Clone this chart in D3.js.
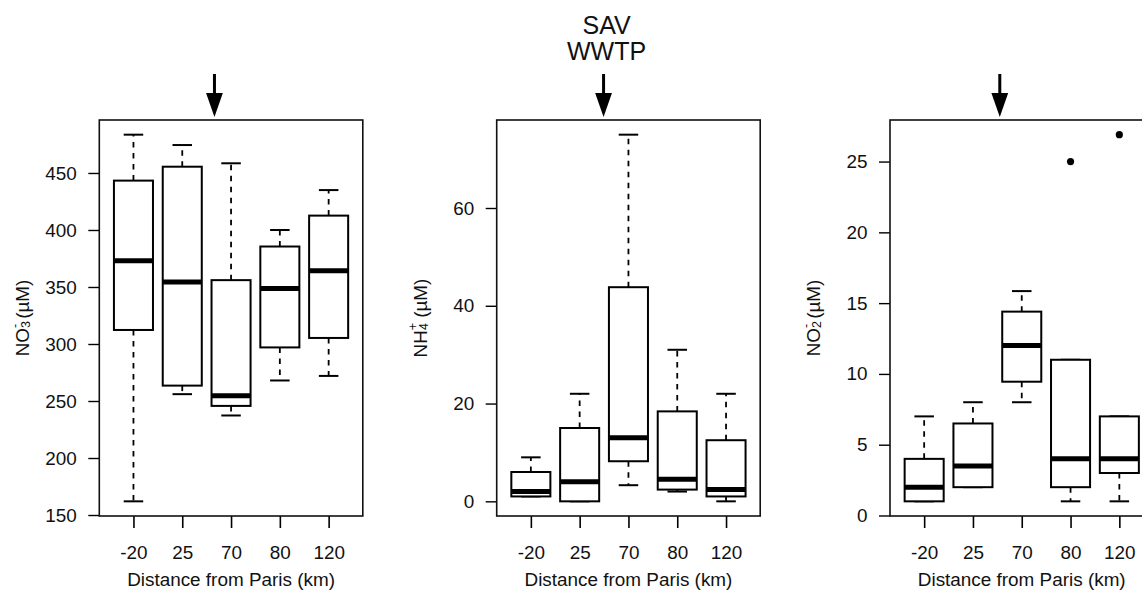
<!DOCTYPE html>
<html>
<head>
<meta charset="utf-8">
<script src="https://cdn.jsdelivr.net/npm/d3@7"></script>
<style>
  html, body { margin: 0; padding: 0; background: #fff; }
  svg { display: block; font-family: "Liberation Sans", Arial, Helvetica, sans-serif; }
</style>
</head>
<body>
<svg id="chart" width="1142" height="592"></svg>
<script>
// ---- data ----
const categories = ["-20", "25", "70", "80", "120"];
// [lower whisker, Q1, median, Q3, upper whisker]
const no3Stats = [
  [162, 312.3, 373, 443.3, 483.6],
  [256, 263.5, 354.3, 455.5, 474.5],
  [237.3, 245.7, 254.5, 356, 458.5],
  [268, 297, 348.7, 385.5, 400],
  [272, 305.3, 364.2, 412.6, 435]
];
const nh4Stats = [
  [1, 1, 2, 6, 9],
  [0, 0, 4, 15, 22],
  [3.3, 8.2, 13, 43.8, 75],
  [2, 2.4, 4.5, 18.4, 31],
  [0, 1, 2.4, 12.5, 22]
];
const no2Stats = [
  [1, 1, 2, 4, 7],
  [2, 2, 3.5, 6.5, 8],
  [8, 9.45, 12, 14.4, 15.85],
  [1, 2, 4, 11, 11],
  [1, 3, 4, 7, 7]
];
const no3Outliers = [[], [], [], [], []];
const nh4Outliers = [[], [], [], [], []];
const no2Outliers = [[], [], [], [25], [26.9]];
const no3Ticks = [150, 200, 250, 300, 350, 400, 450];
const nh4Ticks = [0, 20, 40, 60];
const no2Ticks = [0, 5, 10, 15, 20, 25];
// arrow position (in box-index units) marking the SAV WWTP outfall
const arrowPos = [2.66, 2.49, 2.55];
const xTitle = "Distance from Paris (km)";
const wwtpTitle = ["SAV", "WWTP"];

// ---- layout ----
const svg = d3.select("#chart");
const FS = 18.9;
const plotTop = 120, plotBottom = 516, plotW = 263.5;
const lefts = [99.3, 496.7, 890];

const panels = [
  { stats: no3Stats, out: no3Outliers, ticks: no3Ticks, label: ["NO", "3", "-"] },
  { stats: nh4Stats, out: nh4Outliers, ticks: nh4Ticks, label: ["NH", "4", "+"] },
  { stats: no2Stats, out: no2Outliers, ticks: no2Ticks, label: ["NO", "2", "-"] }
];

panels.forEach((p, pi) => {
  const left = lefts[pi];
  const all = p.stats.flat().concat(p.out.flat());
  const lo = d3.min(all), hi = d3.max(all);
  const ext = (hi - lo) * 0.04;
  const y = d3.scaleLinear().domain([lo - ext, hi + ext]).range([plotBottom, plotTop]);
  const x = d3.scaleLinear().domain([0.3, 5.7]).range([left, left + plotW]);
  const bw = (x(1.4) - x(1)); // half of boxwex 0.8
  const sw = bw / 2;          // half staple width

  const g = svg.append("g");

  // y axis
  const ya = g.append("g").attr("transform", `translate(${left},0)`)
    .call(d3.axisLeft(y).tickValues(p.ticks).tickSize(11).tickPadding(11.5).tickFormat(d3.format("d")));
  ya.select(".domain").remove();
  ya.selectAll("line").attr("stroke", "#000").attr("stroke-width", 1.4);
  ya.selectAll("text").attr("font-size", FS).attr("fill", "#111").attr("font-family", null);

  // x axis
  const xa = g.append("g").attr("transform", `translate(0,${plotBottom})`)
    .call(d3.axisBottom(x).tickValues([1, 2, 3, 4, 5]).tickSize(12).tickPadding(17.5)
      .tickFormat(i => categories[i - 1]));
  xa.select(".domain").remove();
  xa.selectAll("line").attr("stroke", "#000").attr("stroke-width", 1.6);
  xa.selectAll("text").attr("font-size", FS).attr("fill", "#111").attr("font-family", null);

  // boxes
  p.stats.forEach((s, i) => {
    const cx = x(i + 1);
    const [wl, q1, md, q3, wh] = s;
    const bg = g.append("g");
    bg.append("line").attr("x1", cx).attr("x2", cx).attr("y1", y(q3)).attr("y2", y(wh))
      .attr("stroke", "#000").attr("stroke-width", 1.8).attr("stroke-dasharray", "5.5,5.5");
    bg.append("line").attr("x1", cx).attr("x2", cx).attr("y1", y(q1)).attr("y2", y(wl))
      .attr("stroke", "#000").attr("stroke-width", 1.8).attr("stroke-dasharray", "5.5,5.5");
    [wl, wh].forEach(v => {
      bg.append("line").attr("x1", cx - sw).attr("x2", cx + sw).attr("y1", y(v)).attr("y2", y(v))
        .attr("stroke", "#000").attr("stroke-width", 2);
    });
    bg.append("rect").attr("x", cx - bw).attr("width", 2 * bw)
      .attr("y", y(q3)).attr("height", y(q1) - y(q3))
      .attr("fill", "#fff").attr("stroke", "#000").attr("stroke-width", 2);
    bg.append("line").attr("x1", cx - bw).attr("x2", cx + bw).attr("y1", y(md)).attr("y2", y(md))
      .attr("stroke", "#000").attr("stroke-width", 5);
    p.out[i].forEach(v => {
      bg.append("circle").attr("cx", cx).attr("cy", y(v)).attr("r", 3.6).attr("fill", "#000");
    });
  });

  // frame
  g.append("rect").attr("x", left).attr("y", plotTop).attr("width", plotW).attr("height", plotBottom - plotTop)
    .attr("fill", "none").attr("stroke", "#111").attr("stroke-width", 1.6);

  // y title
  const yt = g.append("text")
    .attr("transform", `translate(${left - 77},${(plotTop + plotBottom) / 2}) rotate(-90)`)
    .attr("text-anchor", "middle").attr("dominant-baseline", "central")
    .attr("font-size", FS).attr("fill", "#111");
  yt.append("tspan").text(p.label[0]);
  yt.append("tspan").attr("font-size", 12.5).attr("dy", 4).text(p.label[1]);
  yt.append("tspan").attr("font-size", 12.5).attr("dx", -7).attr("dy", -11).text(p.label[2]);
  yt.append("tspan").attr("dy", 7).attr("dx", 5).text("(\u00b5M)");

  // x title
  g.append("text").attr("x", left + plotW / 2).attr("y", 586).attr("text-anchor", "middle")
    .attr("font-size", FS).attr("fill", "#111").text(xTitle);

  // arrow
  const ax = x(arrowPos[pi]);
  g.append("line").attr("x1", ax).attr("x2", ax).attr("y1", 74).attr("y2", 96)
    .attr("stroke", "#000").attr("stroke-width", 3);
  g.append("path").attr("d", `M${ax - 8.4},93 L${ax + 8.4},93 L${ax},117 Z`).attr("fill", "#000");

  if (pi === 1) {
    wwtpTitle.forEach((t, k) => {
      g.append("text").attr("x", ax + 3).attr("y", 33.5 + k * 26.8).attr("text-anchor", "middle")
        .attr("font-size", 25).attr("fill", "#111").text(t);
    });
  }
});
</script>
</body>
</html>
